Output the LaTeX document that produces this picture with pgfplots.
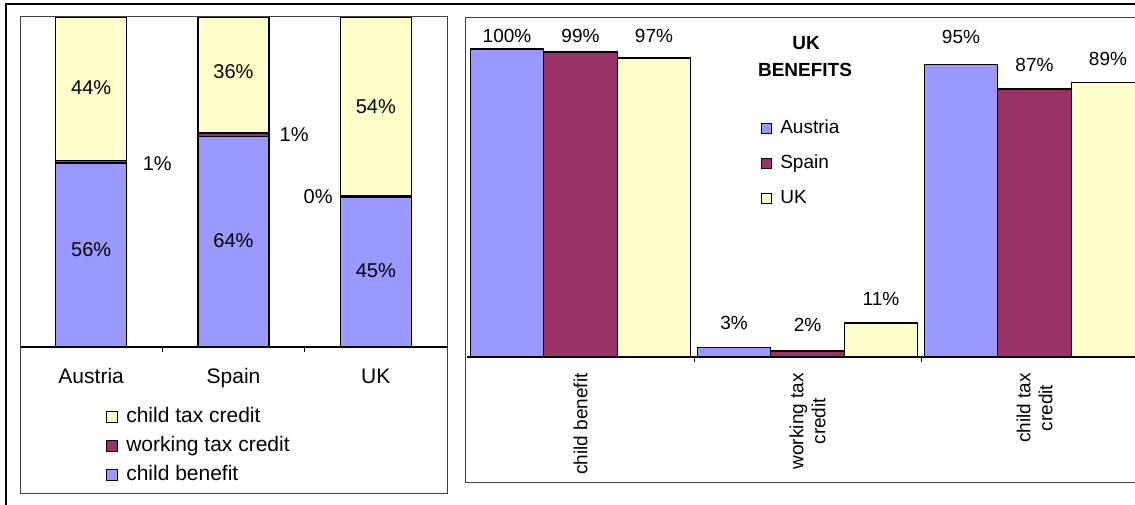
\documentclass[border=0pt]{standalone}
\usepackage{pgfplots}
\pgfplotsset{compat=1.18}
\usepackage{pgfplotstable}
\usepackage{fontspec}
\setmainfont{Liberation Sans}

\definecolor{cbblue}{HTML}{9999FF}
\definecolor{wtcred}{HTML}{993366}
\definecolor{ctcyel}{HTML}{FFFFCC}
\definecolor{framegray}{HTML}{404040}

\newcommand{\fA}{\fontsize{21}{25}\selectfont}
\newcommand{\fB}{\fontsize{20}{24}\selectfont}
\newcommand{\fC}{\fontsize{19}{22}\selectfont}

\pgfplotsset{
  sqlegA/.style={legend image code/.code={\draw[##1,draw=black,line width=1.1pt] (0pt,-5.5pt) rectangle (11pt,5.5pt);}},
  sqlegB/.style={legend image code/.code={\draw[##1,draw=black,line width=1.1pt] (0pt,-5pt) rectangle (10pt,5pt);}},
}

% left: share of each benefit by country
\pgfplotstableread{
x   cb    wtc   ctc
0   55.8  0.7   43.5
1   63.8  1.1   35.1
2   45.5  0.4   54.1
}\leftdata

\pgfplotstableread{
x      y     lab
0      29.4  56\%
0      78.5  44\%
0.464  55.5  1\%
1      32.3  64\%
1      83.3  36\%
1.426  64.5  1\%
2      23.0  45\%
2      72.7  54\%
1.595  45.5  0\%
}\leftlabels

% right: UK benefits
\pgfplotstableread{
x  austria  spain  uk
0  100      99     97
1  3        2      11
2  95       87     89
}\rightdata

\pgfplotstableread{
x        y      lab
-0.3238  104.2  100\%
0        104.2  99\%
0.3238   104.2  97\%
0.6762   11.2   3\%
1        10.4   2\%
1.3238   18.8   11\%
1.6762   103.9  95\%
2        94.6   87\%
2.3238   96.8   89\%
}\rightlabels

\begin{document}
\begin{tikzpicture}[x=1pt,y=1pt]

\begin{axis}[
  at={(20pt,157pt)}, anchor=south west,
  scale only axis, width=427pt, height=330pt,
  xmin=-0.5, xmax=2.5, ymin=0, ymax=100,
  ybar stacked, bar width=0.5,
  axis y line=none, axis x line*=bottom,
  x axis line style={black, line width=1.2pt},
  xtick={0,1,2}, xticklabels={Austria,Spain,UK},
  major tick length=0pt,
  minor xtick={0.5,1.5,2.5}, minor tick length=5pt, tick align=outside,
  minor x tick style={black, line width=0.8pt},
  xticklabel style={font=\fA, anchor=north, inner sep=0pt, text height=15pt},
  xticklabel shift=21pt,
  every axis plot post/.append style={draw=black, line width=1.4pt, sqlegA},
  reverse legend,
  legend cell align=left,
  legend style={at={(0.2014,-0.1758)}, anchor=north west, draw=none, fill=none,
    inner sep=0pt, font=\fA, row sep=5pt, column sep=6pt,
    nodes={inner sep=2pt, text height=15pt, text depth=5pt}},
]
\addplot[fill=cbblue] table[x=x,y=cb]{\leftdata};
\addplot[fill=wtcred] table[x=x,y=wtc]{\leftdata};
\addplot[fill=ctcyel] table[x=x,y=ctc]{\leftdata};
\legend{child benefit, working tax credit, child tax credit}
\end{axis}

\begin{axis}[
  at={(20pt,157pt)}, anchor=south west,
  scale only axis, width=427pt, height=330pt,
  xmin=-0.5, xmax=2.5, ymin=0, ymax=100,
  hide axis, clip=false,
]
\addplot[only marks, mark=none, point meta=explicit symbolic,
  nodes near coords={\pgfplotspointmeta},
  nodes near coords style={anchor=center, font=\fB, text=black, inner sep=0pt}]
  table[x=x,y=y,meta=lab]{\leftlabels};
\end{axis}

\begin{axis}[
  at={(467pt,147pt)}, anchor=south west,
  scale only axis, width=681pt, height=339pt,
  xmin=-0.5, xmax=2.5, ymin=0, ymax=110,
  axis y line=none, axis x line*=bottom,
  x axis line style={black, line width=1.5pt},
  xtick={0,1,2}, xticklabels={child benefit,{working tax\\credit},{child tax\\credit}},
  major tick length=0pt,
  minor xtick={0.5,1.5}, minor tick length=5pt, tick align=outside,
  minor x tick style={black, line width=0.8pt},
  xticklabel style={font=\fC, rotate=90, anchor=east, align=center, inner sep=0pt},
  xticklabel shift=16pt,
  clip=false,
  every axis plot post/.append style={draw=black, line width=1.4pt, sqlegB},
  legend cell align=left,
  legend style={at={(0.4317,0.708)}, anchor=north west, draw=none, fill=none,
    inner sep=0pt, font=\fC, row sep=13pt, column sep=6pt,
    nodes={inner sep=2pt, text height=14pt, text depth=4pt}},
]
\addplot[ybar, bar width=0.3238, bar shift=-0.3238, fill=cbblue] table[x=x,y=austria]{\rightdata};
\addplot[ybar, bar width=0.3238, bar shift=0, fill=wtcred] table[x=x,y=spain]{\rightdata};
\addplot[ybar, bar width=0.3238, bar shift=0.3238, fill=ctcyel] table[x=x,y=uk]{\rightdata};
\legend{Austria, Spain, UK}
\addplot[only marks, mark=none, forget plot, point meta=explicit symbolic,
  nodes near coords={\pgfplotspointmeta},
  nodes near coords style={anchor=center, font=\fC, text=black, inner sep=0pt}]
  table[x=x,y=y,meta=lab]{\rightlabels};
\end{axis}

\node[font=\fC\bfseries] at (806,461) {UK};
\node[font=\fC\bfseries] at (805,434) {BENEFITS};

\draw[framegray, line width=1pt] (20,11) rectangle (447,487);
\draw[framegray, line width=1pt] (1140,486) -- (465.5,486) -- (465.5,21.5) -- (1140,21.5);
\draw[black, line width=1.5pt] (6,-10) -- (6,500) -- (1140,500);

\pgfresetboundingbox
\path[use as bounding box] (0,0) rectangle (1135,504);
\end{tikzpicture}
\end{document}
